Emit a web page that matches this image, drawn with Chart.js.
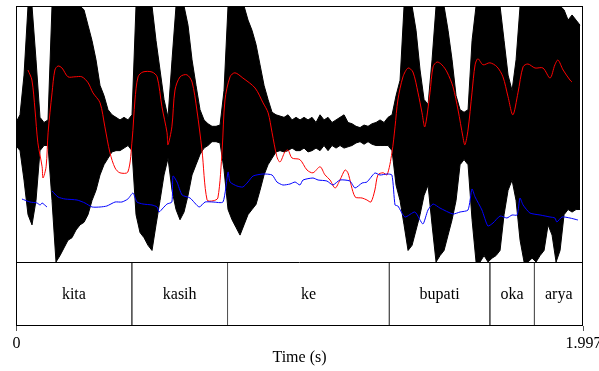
<!DOCTYPE html>
<html>
<head>
<meta charset="utf-8">
<script src="https://cdn.jsdelivr.net/npm/chart.js@4.4.1/dist/chart.umd.min.js"></script>
<style>
  html, body { margin: 0; padding: 0; background: #fff; }
  #wrap { width: 599px; height: 371px; }
</style>
</head>
<body>
<div id="wrap"><canvas id="grafico" width="599" height="371"></canvas></div>
<script>
// waveform envelope, one pair of values every waveStep seconds
const waveStep = 0.01409
const waveTop = [
  0.09, 0.15, 0.46, 1.00, 1.00, 0.58, 0.13, 0.09, 0.11, 1.00,
  1.00, 1.00, 1.00, 1.00, 1.00, 1.00, 1.00, 0.97, 0.85, 0.73,
  0.58, 0.38, 0.30, 0.19, 0.15, 0.13, 0.11, 0.13, 0.11, 0.15,
  1.00, 1.00, 1.00, 1.00, 1.00, 0.73, 0.50, 0.27, 0.13, 0.58,
  1.00, 1.00, 1.00, 0.85, 0.58, 0.38, 0.19, 0.11, 0.08, 0.06,
  0.06, 0.07, 0.34, 1.00, 1.00, 1.00, 1.00, 1.00, 0.89, 0.81,
  0.70, 0.54, 0.38, 0.27, 0.17, 0.15, 0.14, 0.13, 0.15, 0.11,
  0.13, 0.11, 0.13, 0.11, 0.13, 0.09, 0.15, 0.11, 0.13, 0.09,
  0.11, 0.13, 0.15, 0.09, 0.08, 0.06, 0.05, 0.07, 0.06, 0.08,
  0.09, 0.11, 0.09, 0.13, 0.15, 0.30, 0.42, 1.00, 1.00, 1.00,
  0.81, 0.50, 0.27, 0.23, 0.58, 1.00, 1.00, 1.00, 0.81, 0.58,
  0.30, 0.19, 0.17, 0.19, 0.73, 1.00, 1.00, 1.00, 1.00, 1.00,
  1.00, 1.00, 0.73, 0.46, 0.34, 0.58, 1.00, 1.00, 1.00, 1.00,
  1.00, 1.00, 1.00, 1.00, 1.00, 1.00, 1.00, 0.97, 0.89, 0.93,
  0.89, 0.85
]
const waveBottom = [
  -0.09, -0.13, -0.36, -0.63, -0.71, -0.52, -0.13, -0.09, -0.09, -0.52,
  -1.00, -0.95, -0.89, -0.83, -0.81, -0.75, -0.71, -0.69, -0.63, -0.52,
  -0.44, -0.32, -0.24, -0.19, -0.14, -0.13, -0.13, -0.11, -0.09, -0.13,
  -0.63, -0.77, -0.81, -0.87, -0.91, -0.71, -0.52, -0.32, -0.19, -0.44,
  -0.59, -0.67, -0.61, -0.48, -0.32, -0.24, -0.16, -0.11, -0.09, -0.06,
  -0.06, -0.07, -0.28, -0.59, -0.67, -0.73, -0.79, -0.71, -0.63, -0.59,
  -0.55, -0.44, -0.32, -0.24, -0.19, -0.14, -0.13, -0.14, -0.13, -0.11,
  -0.13, -0.13, -0.11, -0.14, -0.13, -0.11, -0.13, -0.09, -0.13, -0.09,
  -0.11, -0.09, -0.11, -0.10, -0.09, -0.07, -0.06, -0.08, -0.06, -0.08,
  -0.09, -0.09, -0.09, -0.09, -0.13, -0.40, -0.52, -0.71, -0.91, -0.87,
  -0.75, -0.63, -0.48, -0.40, -0.71, -1.00, -0.95, -0.91, -0.79, -0.67,
  -0.52, -0.24, -0.20, -0.24, -0.67, -1.00, -1.00, -0.95, -1.00, -0.97,
  -0.95, -0.91, -0.63, -0.44, -0.36, -0.52, -0.83, -1.00, -1.00, -0.97,
  -1.00, -0.95, -0.91, -0.71, -0.79, -1.00, -0.91, -0.63, -0.59, -0.61,
  -0.59, -0.59
]

// intensity (dB)
const intensityTimes = [
  0.042, 0.056, 0.067, 0.077, 0.092, 0.095, 0.106, 0.113, 0.127, 0.137,
  0.148, 0.162, 0.183, 0.208, 0.232, 0.254, 0.271, 0.296, 0.313, 0.331,
  0.349, 0.366, 0.394, 0.409, 0.419, 0.430, 0.447, 0.479, 0.497, 0.514,
  0.532, 0.535, 0.549, 0.560, 0.578, 0.602, 0.620, 0.637, 0.655, 0.673,
  0.694, 0.711, 0.726, 0.736, 0.754, 0.771, 0.799, 0.842, 0.870, 0.888,
  0.902, 0.919, 0.930, 0.947, 0.958, 0.972, 1.000, 1.025, 1.046, 1.071,
  1.088, 1.106, 1.124, 1.141, 1.159, 1.169, 1.194, 1.219, 1.236, 1.250,
  1.264, 1.275, 1.293, 1.307, 1.324, 1.335, 1.345, 1.363, 1.381, 1.398,
  1.416, 1.430, 1.440, 1.458, 1.469, 1.483, 1.500, 1.518, 1.539, 1.557,
  1.574, 1.581, 1.592, 1.606, 1.617, 1.627, 1.645, 1.669, 1.694, 1.715,
  1.733, 1.750, 1.768, 1.786, 1.803, 1.828, 1.856, 1.881, 1.898, 1.909,
  1.927, 1.951, 1.958
]
const intensityDb = [
  74.0, 71.5, 64.0, 55.8, 49.8, 47.0, 49.8, 58.3, 68.3, 74.0,
  75.0, 74.5, 72.3, 72.3, 72.3, 70.8, 68.3, 65.8, 59.8, 53.3,
  49.5, 48.3, 48.5, 56.5, 66.5, 72.3, 73.5, 73.5, 72.3, 64.8,
  58.3, 55.3, 59.8, 69.0, 72.3, 72.8, 71.0, 64.0, 54.0, 41.5,
  41.3, 42.0, 54.0, 66.5, 72.3, 73.3, 72.0, 69.5, 65.8, 63.3,
  58.3, 52.3, 51.0, 53.5, 54.0, 52.0, 51.6, 49.0, 48.3, 49.8,
  47.8, 46.5, 44.5, 46.5, 49.0, 48.3, 42.3, 42.0, 41.5, 41.0,
  44.0, 47.8, 48.3, 47.8, 53.3, 59.8, 66.5, 72.3, 74.5, 73.5,
  68.3, 63.3, 59.8, 68.3, 74.8, 76.0, 75.3, 73.5, 69.8, 64.0,
  57.3, 55.3, 59.0, 68.3, 75.3, 76.8, 75.3, 75.8, 74.8, 72.3,
  67.3, 62.8, 68.3, 74.8, 75.5, 74.5, 74.5, 72.0, 75.3, 76.5,
  74.0, 71.5, 71.0
]

// pitch (Hz), null = unvoiced
const pitchTimes = [
  0.021, 0.049, 0.074, 0.085, 0.092, 0.109, 0.115, 0.127, 0.148, 0.173,
  0.215, 0.243, 0.268, 0.296, 0.320, 0.349, 0.373, 0.394, 0.412, 0.426,
  0.447, 0.479, 0.497, 0.504, 0.518, 0.532, 0.549, 0.553, 0.567, 0.585,
  0.613, 0.645, 0.666, 0.694, 0.729, 0.747, 0.754, 0.778, 0.799, 0.817,
  0.835, 0.870, 0.902, 0.919, 0.940, 0.965, 0.983, 1.000, 1.011, 1.046,
  1.064, 1.095, 1.116, 1.141, 1.176, 1.194, 1.219, 1.236, 1.264, 1.282,
  1.307, 1.324, 1.335, 1.345, 1.370, 1.405, 1.433, 1.451, 1.469, 1.493,
  1.539, 1.564, 1.592, 1.606, 1.617, 1.641, 1.662, 1.680, 1.705, 1.729,
  1.747, 1.765, 1.775, 1.786, 1.810, 1.846, 1.881, 1.898, 1.905, 1.923,
  1.951, 1.979
]
const pitchHz = [
  227, 224, 223, 221, 223, 219, null, 235, 229, 227,
  226, 223, 219, 219, 220, 224, 224, 227, 233, 224,
  222, 221, 219, 214, 218, 222, 224, 250, 244, 231,
  228, 219, 224, 224, 224, 254, 244, 240, 239, 244,
  250, 252, 251, 244, 241, 242, 244, 241, 246, 248,
  246, 245, 241, 246, 245, 238, 243, 244, 253, 251,
  252, 251, 221, 220, 209, 214, 202, 216, 222, 218,
  212, 214, 216, 237, 229, 216, 200, 203, 210, 208,
  211, 211, 228, 221, 213, 211, 209, 208, 204, 209,
  208, 206
]

// textgrid tier
const tierBounds = [0, 0.408, 0.745, 1.315, 1.669, 1.826, 1.997]
const tierLabels = ['kita', 'kasih', 'ke', 'bupati', 'oka', 'arya']

const timeTicks = [0, 1.997]
const timeTickLabels = ['0', '1.997']
const timeTitle = 'Time (s)'

const fonte = '16px "Liberation Serif", "Times New Roman", serif'

const topPts = waveTop.map((v, i) => ({ x: i * waveStep, y: v }))
const botPts = waveBottom.map((v, i) => ({ x: i * waveStep, y: v }))
const intPts = intensityTimes.map((t, i) => ({ x: t, y: intensityDb[i] }))
const pitchPts = pitchTimes.map((t, i) => ({ x: t, y: pitchHz[i] }))

const boundPts = []
tierBounds.slice(1, -1).forEach(t => {
  boundPts.push({ x: t, y: -1 })
  boundPts.push({ x: t, y: -1.5 })
  boundPts.push({ x: t, y: null })
})

const molduraPlugin = {
  id: 'moldura',
  afterDatasetsDraw(chart) {
    const { ctx, chartArea: a, scales } = chart
    const xs = scales.x
    const yw = scales.yWave
    ctx.save()
    ctx.strokeStyle = '#000'
    ctx.lineWidth = 1
    ctx.strokeRect(a.left + 0.5, a.top + 0.5, a.right - a.left - 1, a.bottom - a.top - 1)
    const yDiv = Math.round(yw.getPixelForValue(-1)) + 0.5
    ctx.beginPath()
    ctx.moveTo(a.left, yDiv)
    ctx.lineTo(a.right, yDiv)
    ctx.stroke()

    ctx.fillStyle = '#000'
    ctx.font = fonte
    ctx.textAlign = 'center'
    ctx.textBaseline = 'middle'
    const yLab = yw.getPixelForValue(-1.25)
    tierLabels.forEach((lab, i) => {
      const mid = (tierBounds[i] + tierBounds[i + 1]) / 2
      ctx.fillText(lab, xs.getPixelForValue(mid), yLab + 1)
    })

    ctx.strokeStyle = '#555'
    timeTicks.forEach((t, i) => {
      const px = Math.round(xs.getPixelForValue(t)) + 0.5
      ctx.beginPath()
      ctx.moveTo(px, a.bottom)
      ctx.lineTo(px, a.bottom + 5)
      ctx.stroke()
      ctx.fillText(timeTickLabels[i], px, a.bottom + 18)
    })
    ctx.fillText(timeTitle, (a.left + a.right) / 2, a.bottom + 32)
    ctx.restore()
  }
}

const ctx = document.getElementById('grafico').getContext('2d')
new Chart(ctx, {
  type: 'line',
  data: {
    datasets: [
      {
        label: 'pitch',
        data: pitchPts,
        yAxisID: 'yPitch',
        borderColor: '#0000ff',
        borderWidth: 1,
        pointRadius: 0,
        tension: 0.2,
        spanGaps: false,
        order: 0,
      },
      {
        label: 'intensity',
        data: intPts,
        yAxisID: 'yInt',
        borderColor: '#ff0000',
        borderWidth: 1,
        pointRadius: 0,
        tension: 0.3,
        order: 1,
      },
      {
        label: 'boundaries',
        data: boundPts,
        yAxisID: 'yWave',
        borderColor: '#555',
        borderWidth: 1,
        pointRadius: 0,
        spanGaps: false,
        order: 2,
      },
      {
        label: 'waveTop',
        data: topPts,
        yAxisID: 'yWave',
        borderColor: '#000',
        borderWidth: 1,
        pointRadius: 0,
        fill: false,
        order: 3,
      },
      {
        label: 'waveBottom',
        data: botPts,
        yAxisID: 'yWave',
        borderColor: '#000',
        borderWidth: 1,
        pointRadius: 0,
        backgroundColor: '#000',
        fill: '-1',
        order: 4,
      },
    ]
  },
  options: {
    responsive: false,
    animation: false,
    devicePixelRatio: 1,
    layout: { padding: { left: 16, right: 16, top: 6, bottom: 45 } },
    plugins: {
      legend: { display: false },
      tooltip: { enabled: false },
    },
    scales: {
      x: { type: 'linear', min: 0, max: 1.997, display: false },
      yWave: { type: 'linear', min: -1.5, max: 1, display: false },
      yInt: { type: 'linear', min: 10, max: 90, display: false },
      yPitch: { type: 'linear', min: 100, max: 420, display: false },
    }
  },
  plugins: [molduraPlugin]
})
</script>
</body>
</html>
